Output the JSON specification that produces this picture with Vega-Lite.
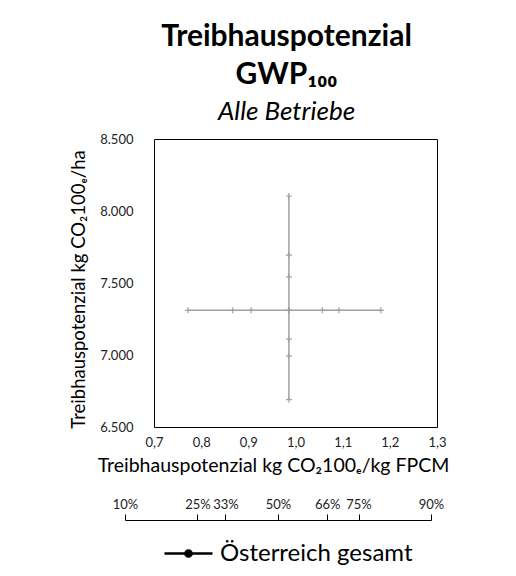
{
  "$schema": "https://vega.github.io/schema/vega-lite/v6.json",
  "width": 283,
  "height": 288,
  "autosize": {"type": "none"},
  "padding": {"left": 154, "top": 139, "right": 79, "bottom": 149},
  "background": "white",
  "title": {
    "text": ["Treibhauspotenzial", "GWP₁₀₀"],
    "subtitle": "Alle Betriebe",
    "anchor": "middle",
    "dx": -9,
    "font": "Lato",
    "fontSize": 30,
    "fontWeight": "bold",
    "lineHeight": 38,
    "color": "black",
    "subtitleFont": "Lato",
    "subtitleFontSize": 26,
    "subtitleFontStyle": "italic",
    "subtitleColor": "black",
    "subtitlePadding": 9,
    "offset": 8
  },
  "datasets": {
    "horizontal": [
      {"perzentil": "10%", "gwp_kg_fpcm": 0.772, "gwp_ha": 7310},
      {"perzentil": "25%", "gwp_kg_fpcm": 0.867, "gwp_ha": 7310},
      {"perzentil": "33%", "gwp_kg_fpcm": 0.906, "gwp_ha": 7310},
      {"perzentil": "50%", "gwp_kg_fpcm": 0.986, "gwp_ha": 7310},
      {"perzentil": "66%", "gwp_kg_fpcm": 1.057, "gwp_ha": 7310},
      {"perzentil": "75%", "gwp_kg_fpcm": 1.092, "gwp_ha": 7310},
      {"perzentil": "90%", "gwp_kg_fpcm": 1.181, "gwp_ha": 7310}
    ],
    "vertical": [
      {"perzentil": "10%", "gwp_kg_fpcm": 0.986, "gwp_ha": 6690},
      {"perzentil": "25%", "gwp_kg_fpcm": 0.986, "gwp_ha": 6992},
      {"perzentil": "33%", "gwp_kg_fpcm": 0.986, "gwp_ha": 7110},
      {"perzentil": "50%", "gwp_kg_fpcm": 0.986, "gwp_ha": 7310},
      {"perzentil": "66%", "gwp_kg_fpcm": 0.986, "gwp_ha": 7543},
      {"perzentil": "75%", "gwp_kg_fpcm": 0.986, "gwp_ha": 7694},
      {"perzentil": "90%", "gwp_kg_fpcm": 0.986, "gwp_ha": 8104}
    ],
    "percentiles": [
      {"perzentil": "10%", "z": -1.2816},
      {"perzentil": "25%", "z": -0.6745},
      {"perzentil": "33%", "z": -0.4399},
      {"perzentil": "50%", "z": 0},
      {"perzentil": "66%", "z": 0.4125},
      {"perzentil": "75%", "z": 0.6745},
      {"perzentil": "90%", "z": 1.2816}
    ]
  },
  "layer": [
    {
      "layer": [
        {
          "data": {"name": "horizontal"},
          "mark": {"type": "line", "strokeWidth": 1.5, "strokeOpacity": 0.37},
          "encoding": {
            "x": {
              "field": "gwp_kg_fpcm",
              "type": "quantitative",
              "scale": {"domain": [0.7, 1.3], "nice": false, "zero": false},
              "axis": {
                "title": "Treibhauspotenzial kg CO₂100ₑ/kg FPCM",
                "values": [0.7, 0.8, 0.9, 1.0, 1.1, 1.2, 1.3],
                "labelExpr": "replace(format(datum.value, '.1f'), '.', ',')",
                "labelPadding": 9,
                "titlePadding": 7,
                "titleX": 119
              }
            },
            "y": {
              "field": "gwp_ha",
              "type": "quantitative",
              "scale": {"domain": [6500, 8500], "nice": false, "zero": false},
              "axis": {
                "title": "Treibhauspotenzial kg CO₂100ₑ/ha",
                "values": [6500, 7000, 7500, 8000, 8500],
                "labelExpr": "replace(format(datum.value, ',.0f'), ',', '.')",
                "labelPadding": 21,
                "titlePadding": 11,
                "titleFontSize": 18.5,
                "titleY": 150
              }
            },
            "order": {"field": "gwp_kg_fpcm"},
            "color": {
              "datum": "Österreich gesamt",
              "scale": {"range": ["black"]},
              "legend": {
                "title": null,
                "orient": "none",
                "legendX": 9,
                "legendY": 389,
                "symbolType": "M-1,0H1M-0.13,0A0.13,0.13 0 1,1 0.13,0A0.13,0.13 0 1,1 -0.13,0M-0.06,0A0.06,0.06 0 1,1 0.06,0A0.06,0.06 0 1,1 -0.06,0",
                "symbolSize": 2304,
                "symbolStrokeWidth": 2.5,
                "symbolOpacity": 1,
                "labelFont": "Lato",
                "labelFontSize": 24,
                "labelColor": "black",
                "labelLimit": 400,
                "labelOffset": 6
              }
            }
          }
        },
        {
          "data": {"name": "vertical"},
          "mark": {"type": "line", "strokeWidth": 1.5, "strokeOpacity": 0.37},
          "encoding": {
            "x": {"field": "gwp_kg_fpcm", "type": "quantitative"},
            "y": {"field": "gwp_ha", "type": "quantitative"},
            "order": {"field": "gwp_ha"},
            "color": {"datum": "Österreich gesamt"}
          }
        },
        {
          "data": {"name": "horizontal"},
          "mark": {"type": "point", "shape": "M0,-1V1M-1,0H1", "size": 36, "stroke": "#a0a0a0", "strokeWidth": 1.2, "filled": false, "opacity": 1},
          "encoding": {
            "x": {"field": "gwp_kg_fpcm", "type": "quantitative"},
            "y": {"field": "gwp_ha", "type": "quantitative"}
          }
        },
        {
          "data": {"name": "vertical"},
          "mark": {"type": "point", "shape": "M0,-1V1M-1,0H1", "size": 36, "stroke": "#a0a0a0", "strokeWidth": 1.2, "filled": false, "opacity": 1},
          "encoding": {
            "x": {"field": "gwp_kg_fpcm", "type": "quantitative"},
            "y": {"field": "gwp_ha", "type": "quantitative"}
          }
        }
      ]
    },
    {
      "data": {"name": "percentiles"},
      "mark": {"type": "point", "opacity": 0},
      "encoding": {
        "x": {
          "field": "z",
          "type": "quantitative",
          "scale": {"domain": [-1.2816, 1.2816], "range": [-29, 277], "nice": false, "zero": false},
          "axis": {
            "orient": "top",
            "offset": -381,
            "title": null,
            "values": [-1.2816, -0.6745, -0.4399, 0, 0.4125, 0.6745, 1.2816],
            "labelExpr": "format(cumulativeNormal(datum.value), '.0%')",
            "domain": true,
            "domainColor": "black",
            "domainWidth": 1,
            "ticks": true,
            "tickColor": "black",
            "tickSize": 6,
            "labelPadding": 3,
            "labelFontSize": 13
          }
        }
      }
    }
  ],
  "resolve": {"scale": {"x": "independent"}, "axis": {"x": "independent"}},
  "config": {
    "view": {"stroke": "black", "strokeWidth": 1},
    "axis": {
      "grid": false,
      "domain": false,
      "ticks": false,
      "tickSize": 0,
      "labelFlush": false,
      "labelOverlap": false,
      "labelFont": "Lato",
      "labelFontSize": 13,
      "labelColor": "#222",
      "titleFont": "Lato",
      "titleFontSize": 19.5,
      "titleFontWeight": "normal",
      "titleColor": "black"
    },
    "legend": {"direction": "horizontal"}
  }
}
